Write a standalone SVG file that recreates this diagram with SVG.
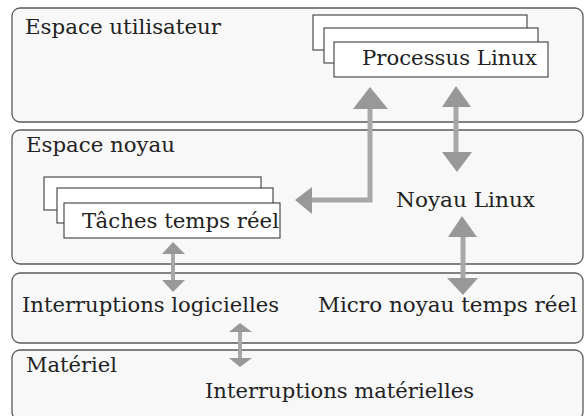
<svg xmlns="http://www.w3.org/2000/svg" width="585" height="416" viewBox="0 0 585 416">
<style>
.panel{fill:#f8f8f8;stroke:#5a5a5a;stroke-width:1.3}
.box{fill:#ffffff;stroke:#3c3c3c;stroke-width:1.1}
.t{font-family:"DejaVu Serif","Liberation Serif",serif;font-size:21px;fill:#222}
.shaft{fill:none;stroke:#a8a8a8;stroke-width:5}
.head{fill:#989898}
</style>
<rect width="585" height="416" fill="#ffffff"/>
<g id="espace-utilisateur">
<rect class="panel" x="12" y="8" width="571" height="114" rx="8"/>
<text class="t" x="25" y="34" textLength="196" lengthAdjust="spacingAndGlyphs">Espace utilisateur</text>
</g>
<g id="espace-noyau">
<rect class="panel" x="12" y="130" width="571" height="134" rx="8"/>
<text class="t" x="26" y="152" textLength="149" lengthAdjust="spacingAndGlyphs">Espace noyau</text>
<text class="t" x="396" y="207" textLength="139" lengthAdjust="spacingAndGlyphs">Noyau Linux</text>
</g>
<g id="micro-noyau">
<rect class="panel" x="12" y="273" width="571" height="70" rx="8"/>
<text class="t" x="22" y="312" textLength="257" lengthAdjust="spacingAndGlyphs">Interruptions logicielles</text>
<text class="t" x="318" y="312" textLength="259" lengthAdjust="spacingAndGlyphs">Micro noyau temps réel</text>
</g>
<g id="materiel">
<rect class="panel" x="12" y="350" width="571" height="70" rx="8"/>
<text class="t" x="26" y="372" textLength="91" lengthAdjust="spacingAndGlyphs">Matériel</text>
<text class="t" x="205" y="398" textLength="269" lengthAdjust="spacingAndGlyphs">Interruptions matérielles</text>
</g>
<g id="processus-linux">
<rect class="box" x="313" y="15" width="214" height="35"/>
<rect class="box" x="324" y="28" width="214" height="35"/>
<rect class="box" x="334" y="42" width="214" height="35"/>
<text class="t" x="362" y="65" textLength="175" lengthAdjust="spacingAndGlyphs">Processus Linux</text>
</g>
<g id="taches-temps-reel">
<rect class="box" x="44" y="177" width="217" height="33"/>
<rect class="box" x="57" y="188" width="216" height="35"/>
<rect class="box" x="64" y="203" width="216" height="35"/>
<text class="t" x="82" y="228" textLength="197" lengthAdjust="spacingAndGlyphs">Tâches temps réel</text>
</g>
<g id="connectors">
<path class="shaft" d="M370 108 V200 H311"/>
<polygon class="head" points="370,87 388,109 353,109"/>
<polygon class="head" points="295,200 312,187 312,214"/>
<path class="shaft" d="M456 106 V153"/>
<polygon class="head" points="456,86 471,107 442,107"/>
<polygon class="head" points="457,172 442,152 472,152"/>
<path class="shaft" d="M463 236 V279"/>
<polygon class="head" points="462,216 477,237 448,237"/>
<polygon class="head" points="463,295 447,278 478,278"/>
<path class="shaft" d="M173 253 V281" style="stroke-width:4"/>
<polygon class="head" points="173,242 185,254 162,254"/>
<polygon class="head" points="173,292 162,280 185,280"/>
<path class="shaft" d="M240 331 V359" style="stroke-width:4"/>
<polygon class="head" points="240,323 252,332 229,332"/>
<polygon class="head" points="240,367 229,358 252,358"/>
</g>
</svg>
